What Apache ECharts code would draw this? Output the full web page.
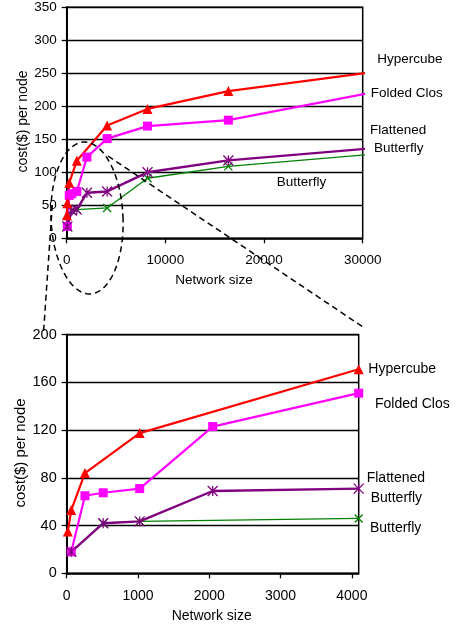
<!DOCTYPE html>
<html><head><meta charset="utf-8">
<script src="https://cdn.jsdelivr.net/npm/echarts/dist/echarts.min.js"></script>
<style>html,body{margin:0;padding:0;background:#fff}#c{width:464px;height:628px}</style>
</head><body><div id="c"></div>
<script>
// Network sizes (x) and cost($) per node (y) per topology.
// The final entry of each series is where the line leaves the top plot (no marker there).
const hyperX = [16, 64, 256, 1024, 4096, 8192, 16384, 30600];
const hyperY = [35, 53, 84, 117.5, 171, 196, 223, 251];
const closX  = [64, 256, 512, 1024, 2048, 4096, 8192, 16384, 30600];
const closY  = [18, 65, 67.5, 71, 123, 151, 170, 179, 220];
const flatX  = [64, 512, 1024, 2048, 4096, 8192, 16384, 30600];
const flatY  = [18, 42, 43.5, 69, 71, 100, 118, 136];
const bflyX  = [64, 512, 1024, 4096, 8192, 16384, 30600];
const bflyY  = [18, 42, 43.5, 46, 91, 109, 127];

const topYTicks = [0, 50, 100, 150, 200, 250, 300, 350];
const topXTicks = [0, 10000, 20000, 30000];
const botYTicks = [0, 40, 80, 120, 160, 200];
const botXTicks = [0, 1000, 2000, 3000, 4000];
const zoomMaxX = 4096;

const FONT = "'Liberation Sans', Arial, Helvetica, sans-serif";
const ASTER = 'path://M0,0L10,10M10,0L0,10M5,0L5,10';
const XMARK = 'path://M0,0L10,10M10,0L0,10';

function pairs(xs, ys, lim) {
  const out = [];
  for (let i = 0; i < xs.length; i++) {
    if (lim != null && xs[i] > lim) continue;
    const item = {value: [xs[i], ys[i]]};
    if (i === xs.length - 1) item.symbol = 'none';
    out.push(item);
  }
  return out;
}

const defs = [
  {name: 'Butterfly', xs: bflyX, ys: bflyY, color: '#008000', symbol: XMARK, size: 8, lw: 1.3, stroke: true},
  {name: 'Folded Clos', xs: closX, ys: closY, color: '#FF00FF', symbol: 'rect', size: 9, lw: 2.2},
  {name: 'Flattened Butterfly', xs: flatX, ys: flatY, color: '#800080', symbol: ASTER, size: 10, lw: 2.4, stroke: true},
  {name: 'Hypercube', xs: hyperX, ys: hyperY, color: '#FF0000', symbol: 'triangle', size: 10, lw: 2.2}
];

const series = [];
[0, 1].forEach(g => {
  defs.forEach(d => {
    series.push({
      type: 'line', name: d.name, xAxisIndex: g, yAxisIndex: g,
      data: pairs(d.xs, d.ys, g === 1 ? zoomMaxX : null),
      clip: g === 1, animation: false,
      symbol: d.symbol, symbolSize: d.size, showAllSymbol: true,
      lineStyle: {color: d.color, width: d.lw},
      itemStyle: d.stroke ? {color: 'rgba(0,0,0,0)', borderColor: d.color, borderWidth: 1.3}
                          : {color: d.color, borderWidth: 0},
      emphasis: {disabled: true}
    });
  });
});

const plain = v => String(v);
function yAxis(g, max, interval, fs) {
  return {
    type: 'value', gridIndex: g, min: 0, max: max, interval: interval,
    axisLine: {show: true, lineStyle: {color: '#000', width: 2}},
    axisTick: {show: true, length: 5, lineStyle: {color: '#000', width: 1.3}},
    axisLabel: {color: '#000', fontSize: fs, fontFamily: FONT, margin: 10, formatter: plain},
    splitLine: {show: true, lineStyle: {color: '#000', width: 1.3}}
  };
}
function xAxis(g, max, interval, fs, margin) {
  return {
    type: 'value', gridIndex: g, min: 0, max: max, interval: interval,
    axisLine: {show: true, onZero: false, lineStyle: {color: '#000', width: 1.5}},
    axisTick: {show: true, length: 5, lineStyle: {color: '#000', width: 1.3}},
    axisLabel: {color: '#000', fontSize: fs, fontFamily: FONT, margin: margin, showMaxLabel: g === 0, formatter: plain},
    splitLine: {show: false}
  };
}

// dashed ellipse (annotation)
const ell = [];
const cx = 87, cy = 218, rx = 36, ry = 76, rot = -2.5 * Math.PI / 180;
for (let i = 0; i <= 120; i++) {
  const t = i / 120 * Math.PI * 2;
  const ex = rx * Math.cos(t), ey = ry * Math.sin(t);
  ell.push([cx + ex * Math.cos(rot) - ey * Math.sin(rot), cy + ex * Math.sin(rot) + ey * Math.cos(rot)]);
}
const dash = {stroke: '#000', lineWidth: 1.5, lineDash: [6, 4], fill: null};

function txt(x, y, s, fs, align) {
  return {type: 'text', x: x, y: y, z: 10,
    style: {text: s, fill: '#000', font: fs + 'px ' + FONT, textAlign: align || 'left', textVerticalAlign: 'middle'}};
}

const chart = echarts.init(document.getElementById('c'), null, {renderer: 'canvas'});
chart.setOption({
  backgroundColor: '#fff',
  animation: false,
  grid: [
    {left: 66.7, right: 101.3, top: 7.3, height: 231, show: true, borderColor: '#000', borderWidth: 1.5, backgroundColor: 'transparent'},
    {left: 66.7, right: 105.3, top: 334.7, height: 238.6, show: true, borderColor: '#000', borderWidth: 1.5, backgroundColor: 'transparent'}
  ],
  xAxis: [xAxis(0, topXTicks[topXTicks.length - 1], topXTicks[1] - topXTicks[0], 13.5, 15),
          xAxis(1, zoomMaxX, botXTicks[1] - botXTicks[0], 14, 16)],
  yAxis: [yAxis(0, topYTicks[topYTicks.length - 1], topYTicks[1] - topYTicks[0], 13.5),
          yAxis(1, botYTicks[botYTicks.length - 1], botYTicks[1] - botYTicks[0], 14.5)],
  series: series,
  graphic: [
    {type: 'polyline', shape: {points: ell}, style: dash, z: 20, silent: true},
    {type: 'line', shape: {x1: 108, y1: 156, x2: 363, y2: 327}, style: dash, z: 20, silent: true},
    {type: 'line', shape: {x1: 52.3, y1: 205, x2: 43.5, y2: 333}, style: dash, z: 20, silent: true},
    txt(377.3, 59.3, 'Hypercube', 13.5),
    txt(370.7, 93.3, 'Folded Clos', 13.5),
    txt(370, 130, 'Flattened', 13.5),
    txt(374, 148.3, 'Butterfly', 13.5),
    txt(276.7, 182.7, 'Butterfly', 13.5),
    txt(368.3, 369.3, 'Hypercube', 14),
    txt(375, 404, 'Folded Clos', 14),
    txt(366.7, 478, 'Flattened', 14),
    txt(370.7, 498, 'Butterfly', 14),
    txt(370, 528, 'Butterfly', 14),
    txt(214, 280, 'Network size', 13.5, 'center'),
    txt(211.7, 615.7, 'Network size', 14, 'center'),
    {type: 'text', x: 23, y: 121.5, rotation: Math.PI / 2, z: 10,
     style: {text: 'cost($) per node', fill: '#000', font: '14px ' + FONT, textAlign: 'center', textVerticalAlign: 'middle'}},
    {type: 'text', x: 21, y: 453, rotation: Math.PI / 2, z: 10,
     style: {text: 'cost($) per node', fill: '#000', font: '15px ' + FONT, textAlign: 'center', textVerticalAlign: 'middle'}}
  ]
});
</script>
</body></html>
